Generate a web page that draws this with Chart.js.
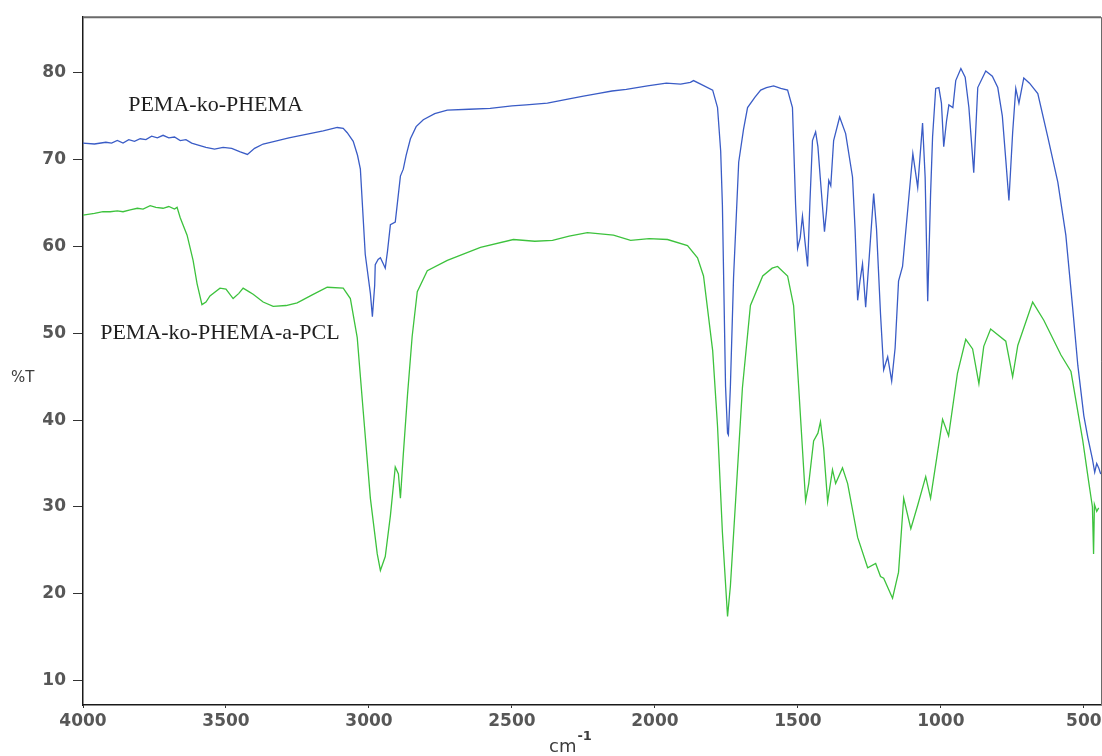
<!DOCTYPE html>
<html>
<head>
<meta charset="utf-8">
<title>FTIR</title>
<script src="https://cdn.jsdelivr.net/npm/chart.js@4.4.1/dist/chart.umd.min.js"></script>
<style>
  body { margin: 0; background: #fff; }
  #wrap { width: 1102px; height: 756px; }
</style>
</head>
<body>
<div id="wrap"><canvas id="ftir" width="1102" height="756"></canvas></div>
<script>
// wavenumber (cm-1) / %T pairs
const phemaWn = [4000, 3960, 3920, 3900, 3880, 3860, 3840, 3820, 3800, 3780, 3760, 3740, 3720, 3700,
  3680, 3660, 3640, 3620, 3600, 3570, 3540, 3510, 3480, 3450, 3425, 3400, 3370, 3330, 3280, 3220,
  3160, 3111, 3090, 3076, 3055, 3040, 3030, 3013, 2995, 2988, 2980, 2978, 2968, 2960, 2950, 2943,
  2935, 2925, 2908, 2890, 2880, 2870, 2855, 2835, 2810, 2770, 2726, 2650, 2576, 2500, 2450, 2376,
  2300, 2250, 2201, 2150, 2100, 2026, 1960, 1910, 1876, 1865, 1840, 1798, 1781, 1770, 1764, 1753,
  1746, 1743, 1736, 1725, 1707, 1690, 1676, 1650, 1630, 1610, 1585, 1560, 1536, 1519, 1508, 1501,
  1492, 1484, 1475, 1466, 1458, 1449, 1438, 1430, 1421, 1407, 1400, 1392, 1385, 1375, 1354, 1333,
  1309, 1300, 1291, 1283, 1274, 1263, 1250, 1235, 1225, 1211, 1200, 1186, 1172, 1160, 1148, 1134,
  1116, 1098, 1081, 1064, 1055, 1046, 1036, 1029, 1018, 1007, 998, 990, 980, 972, 958, 948, 930,
  915, 902, 885, 871, 843, 820, 801, 785, 773, 762, 749, 738, 727, 710, 690, 661, 626, 591, 563,
  539, 521, 500, 486, 470, 462, 455, 448, 441];
const phemaT = [71.9, 71.8, 72.0, 71.9, 72.2, 71.9, 72.3, 72.1, 72.4, 72.3, 72.7, 72.5, 72.8, 72.5,
  72.6, 72.2, 72.3, 71.9, 71.7, 71.4, 71.2, 71.4, 71.3, 70.9, 70.6, 71.3, 71.8, 72.1, 72.5, 72.9,
  73.3, 73.7, 73.6, 73.1, 72.1, 70.5, 68.9, 59.1, 54.6, 51.9, 55.5, 57.9, 58.5, 58.7, 58.0, 57.5,
  59.5, 62.5, 62.8, 68.1, 68.9, 70.5, 72.4, 73.8, 74.6, 75.3, 75.7, 75.8, 75.9, 76.2, 76.3, 76.5,
  77.0, 77.3, 77.6, 77.9, 78.1, 78.5, 78.8, 78.7, 78.9, 79.1, 78.7, 78.0, 76.0, 71.0, 64.8, 43.9,
  38.5, 38.3, 43.9, 56.4, 69.7, 73.5, 76.0, 77.2, 78.0, 78.3, 78.5, 78.2, 78.0, 76.0, 64.8, 59.8,
  61.0, 63.5, 60.5, 57.7, 65.0, 72.2, 73.2, 71.5, 67.6, 61.7, 64.0, 67.6, 67.0, 72.2, 74.9, 73.0,
  68.0, 62.0, 53.8, 56.0, 58.0, 53.0, 59.0, 66.1, 62.0, 52.2, 45.8, 47.3, 44.5, 48.3, 56.0, 57.7,
  64.2, 70.7, 66.8, 74.2, 68.0, 53.7, 66.0, 72.6, 78.2, 78.3, 76.5, 71.5, 74.5, 76.3, 76.0, 79.1, 80.5,
  79.5, 76.0, 68.5, 78.3, 80.2, 79.6, 78.3, 75.0, 70.0, 65.3, 73.1, 78.2, 76.5, 79.4, 78.8, 77.6, 72.6,
  67.4, 61.3, 52.9, 46.3, 40.5, 38.0, 35.5, 34.0, 35.0, 34.5, 33.8];

const pclWn = [4000, 3960, 3930, 3905, 3880, 3860, 3835, 3810, 3790, 3765, 3745, 3720, 3700, 3680,
  3671, 3660, 3636, 3615, 3601, 3584, 3570, 3556, 3521, 3500, 3475, 3455, 3440, 3420, 3405, 3370,
  3335, 3290, 3251, 3200, 3146, 3090, 3065, 3041, 3020, 2995, 2971, 2960, 2943, 2925, 2908, 2897,
  2890, 2880, 2865, 2849, 2831, 2796, 2726, 2610, 2495, 2420, 2358, 2300, 2236, 2145, 2085, 2020,
  1956, 1886, 1851, 1830, 1798, 1781, 1764, 1746, 1736, 1718, 1694, 1666, 1623, 1590, 1571, 1536,
  1515, 1497, 1473, 1462, 1445, 1430, 1421, 1410, 1396, 1379, 1368, 1344, 1326, 1291, 1256, 1228,
  1211, 1200, 1169, 1148, 1130, 1105, 1081, 1053, 1036, 994, 973, 942, 913, 889, 867, 850, 826,
  773, 749, 731, 679, 640, 580, 545, 504, 483, 470, 466, 463, 455, 448];
const pclT = [63.6, 63.8, 64.0, 64.0, 64.1, 64.0, 64.2, 64.4, 64.3, 64.7, 64.5, 64.4, 64.6, 64.3,
  64.5, 63.3, 61.3, 58.4, 55.7, 53.3, 53.6, 54.3, 55.2, 55.1, 54.0, 54.6, 55.2, 54.8, 54.5, 53.6,
  53.1, 53.2, 53.5, 54.4, 55.3, 55.2, 54.0, 49.5, 41.0, 31.0, 24.6, 22.7, 24.3, 29.0, 34.6, 33.8,
  31.0, 36.0, 43.0, 49.6, 54.8, 57.2, 58.4, 59.9, 60.8, 60.6, 60.7, 61.2, 61.6, 61.3, 60.7, 60.9,
  60.8, 60.1, 58.7, 56.6, 48.0, 39.3, 27.1, 17.4, 20.9, 30.6, 43.7, 53.2, 56.6, 57.5, 57.7, 56.6,
  53.2, 43.7, 30.7, 32.7, 37.6, 38.5, 39.8, 36.8, 30.6, 34.3, 32.7, 34.5, 32.7, 26.5, 23.0, 23.5,
  22.0, 21.8, 19.5, 22.5, 31.0, 27.5, 30.2, 33.5, 31.0, 40.1, 38.2, 45.4, 49.3, 48.2, 44.2, 48.5, 50.5,
  49.1, 45.0, 48.6, 53.6, 51.5, 47.5, 45.6, 37.7, 32.9, 30.0, 24.6, 30.3, 29.5, 29.9];

const xTicks = [500, 1000, 1500, 2000, 2500, 3000, 3500, 4000];
const yTicks = [10, 20, 30, 40, 50, 60, 70, 80];

const seriesNames = ['PEMA-ko-PHEMA', 'PEMA-ko-PHEMA-a-PCL'];
// where the sample names sit, in axis units (left edge, baseline)
const nameSpots = [[3842, 75.6], [3940, 49.3]];

function toPoints(xs, ys) {
    let pts = [];
    for (let i = 0; i < xs.length; i++) {
        pts.push({ x: xs[i], y: ys[i] });
    }
    return pts;
}

const tickFont = { family: 'DejaVu Sans', size: 17, weight: 'bold' };

const decorations = {
    id: 'decorations',
    afterDraw(chart) {
        const ctx = chart.ctx;
        const a = chart.chartArea;
        const xs = chart.scales.x;
        const ys = chart.scales.y;
        ctx.save();
        // top + right frame
        ctx.strokeStyle = '#6a6a6a';
        ctx.lineWidth = 2;
        ctx.beginPath();
        ctx.moveTo(a.left, a.top);
        ctx.lineTo(a.right, a.top);
        ctx.stroke();
        ctx.lineWidth = 1;
        ctx.beginPath();
        ctx.moveTo(a.right + 0.5, a.top);
        ctx.lineTo(a.right + 0.5, a.bottom);
        ctx.stroke();

        // sample names
        ctx.fillStyle = '#1e1e1e';
        ctx.font = '22px "Liberation Serif"';
        ctx.textAlign = 'left';
        ctx.textBaseline = 'alphabetic';
        for (let i = 0; i < seriesNames.length; i++) {
            ctx.fillText(seriesNames[i], xs.getPixelForValue(nameSpots[i][0]), ys.getPixelForValue(nameSpots[i][1]));
        }

        // axis titles
        ctx.fillStyle = '#3c3c3c';
        ctx.font = '15px "DejaVu Sans"';
        ctx.textAlign = 'left';
        ctx.textBaseline = 'middle';
        ctx.fillText('%T', 11, (a.top + a.bottom) / 2 + 17);

        const cx = (a.left + a.right) / 2 - 43;
        ctx.font = '18px "DejaVu Sans"';
        ctx.textBaseline = 'alphabetic';
        ctx.fillText('cm', cx, 752);
        const w = ctx.measureText('cm').width;
        ctx.font = 'bold 13px "DejaVu Sans"';
        ctx.fillText('-1', cx + w + 1, 740);
        ctx.restore();
    }
};

const ctx = document.getElementById('ftir').getContext('2d');
new Chart(ctx, {
    type: 'scatter',
    data: {
        datasets: [{
            label: seriesNames[0],
            data: toPoints(phemaWn, phemaT),
            showLine: true,
            borderColor: '#3a5cc6',
            borderWidth: 1.3,
            pointRadius: 0,
            tension: 0
        }, {
            label: seriesNames[1],
            data: toPoints(pclWn, pclT),
            showLine: true,
            borderColor: '#3dc23d',
            borderWidth: 1.3,
            pointRadius: 0,
            tension: 0
        }]
    },
    options: {
        responsive: false,
        animation: false,
        layout: { padding: { top: 16, right: 1, left: 0, bottom: 0 } },
        plugins: {
            legend: { display: false },
            tooltip: { enabled: false }
        },
        scales: {
            x: {
                type: 'linear',
                reverse: true,
                min: 440,
                max: 4000,
                afterBuildTicks: (scale) => { scale.ticks = xTicks.map(v => ({ value: v })); },
                afterFit: (scale) => { scale.height = 51; },
                grid: { drawOnChartArea: false, tickLength: 3, color: '#333' },
                border: { display: true, color: '#1a1a1a', width: 1.5 },
                ticks: { font: tickFont, color: '#575757', padding: 3, maxRotation: 0,
                         callback: (v) => String(v) }
            },
            y: {
                min: 7.2,
                max: 86.4,
                afterBuildTicks: (scale) => { scale.ticks = yTicks.map(v => ({ value: v })); },
                afterFit: (scale) => { scale.width = 83; },
                grid: { drawOnChartArea: false, tickLength: 10, color: '#333' },
                border: { display: true, color: '#1a1a1a', width: 1.5 },
                ticks: { font: tickFont, color: '#575757', padding: 7,
                         callback: (v) => String(v) }
            }
        }
    },
    plugins: [decorations]
});
</script>
</body>
</html>
